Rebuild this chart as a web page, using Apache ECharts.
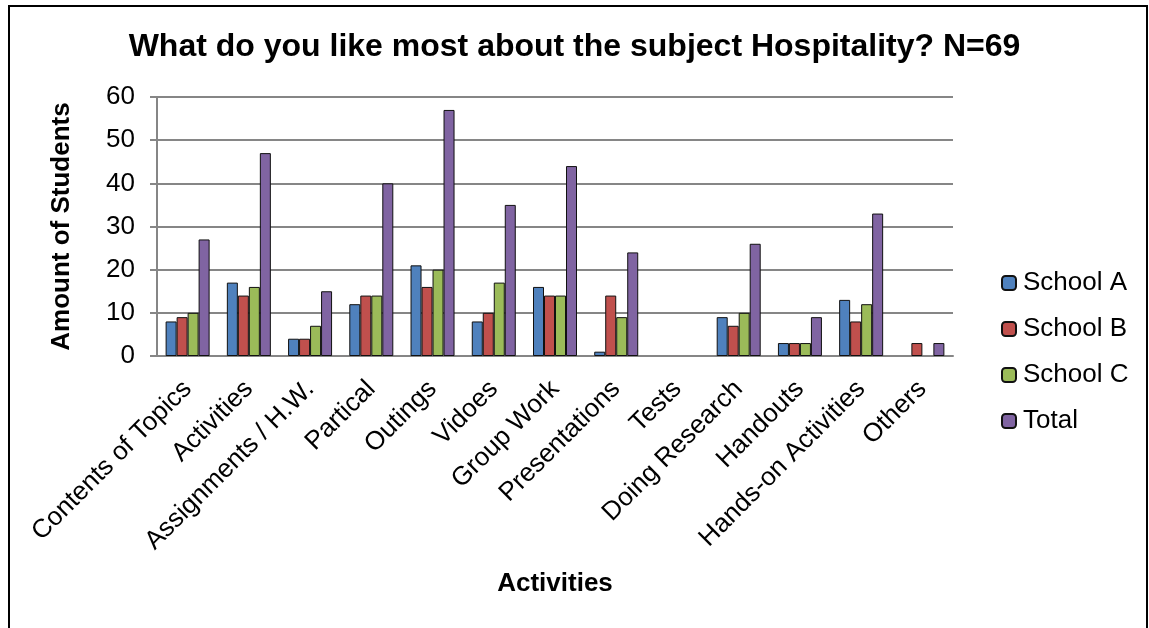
<!DOCTYPE html>
<html>
<head>
<meta charset="utf-8">
<script src="https://cdn.jsdelivr.net/npm/echarts@6/dist/echarts.min.js"></script>
<style>
  html, body { margin: 0; padding: 0; background: #ffffff; }
  #chart { width: 1149px; height: 628px; }
</style>
</head>
<body>
<div id="chart"></div>
<script>
// Survey answers per activity, by school
const categories = [
  'Contents of Topics', 'Activities', 'Assignments / H.W.', 'Partical', 'Outings',
  'Vidoes', 'Group Work', 'Presentations', 'Tests', 'Doing Research',
  'Handouts', 'Hands-on Activities', 'Others'
];
const schoolA = [8, 17, 4, 12, 21, 8, 16, 1, 0, 9, 3, 13, 0];
const schoolB = [9, 14, 4, 14, 16, 10, 14, 14, 0, 7, 3, 8, 3];
const schoolC = [10, 16, 7, 14, 20, 17, 14, 9, 0, 10, 3, 12, 0];
const total   = [27, 47, 15, 40, 57, 35, 44, 24, 0, 26, 9, 33, 3];

const seriesNames = ['School A', 'School B', 'School C', 'Total'];
const seriesColors = ['#4F81BD', '#C0504D', '#9BBB59', '#8064A2'];
const seriesData = [schoolA, schoolB, schoolC, total];

const chart = echarts.init(document.getElementById('chart'));

const font = 'Arial, "Liberation Sans", sans-serif';

chart.setOption({
  backgroundColor: '#ffffff',
  animation: false,
  textStyle: { fontFamily: font },
  title: {
    text: 'What do you like most about the subject Hospitality? N=69',
    left: 'center',
    top: 26,
    textStyle: { fontFamily: font, fontSize: 32, fontWeight: 'bold', color: '#000' }
  },
  legend: {
    orient: 'vertical',
    left: 996,
    top: 265,
    itemWidth: 14,
    itemHeight: 14,
    itemGap: 20,
    data: seriesNames,
    textStyle: { fontFamily: font, fontSize: 26, color: '#000', padding: [0, 0, 0, 2] }
  },
  grid: { left: 157, top: 97, width: 796, height: 259, containLabel: false },
  xAxis: {
    type: 'category',
    data: categories,
    name: 'Activities',
    nameLocation: 'middle',
    nameGap: 215,
    nameTextStyle: { fontFamily: font, fontSize: 26, fontWeight: 'bold', color: '#000' },
    axisLine: { lineStyle: { color: '#868686', width: 2 } },
    axisTick: { show: false },
    axisLabel: {
      rotate: 45,
      interval: 0,
      margin: 29,
      fontFamily: font,
      fontSize: 26,
      color: '#000'
    }
  },
  yAxis: {
    type: 'value',
    min: 0,
    max: 60,
    interval: 10,
    name: 'Amount of Students',
    nameLocation: 'middle',
    nameGap: 82,
    nameTextStyle: { fontFamily: font, fontSize: 26, fontWeight: 'bold', color: '#000' },
    axisLine: { show: true, lineStyle: { color: '#868686', width: 2 } },
    axisTick: { show: true, length: 7, lineStyle: { color: '#868686', width: 2 } },
    axisLabel: { fontFamily: font, fontSize: 26, color: '#000', margin: 22 },
    splitLine: { show: true, lineStyle: { color: '#868686', width: 2 } }
  },
  series: seriesNames.map((name, i) => ({
    name: name,
    type: 'bar',
    // zero counts leave an empty slot instead of a flat outlined bar
    data: seriesData[i].map(v => (v === 0 ? '-' : v)),
    barWidth: 11,
    barGap: '0%',
    itemStyle: { color: seriesColors[i], borderColor: '#111', borderWidth: 1 }
  })),
  graphic: [
    {
      type: 'polyline',
      shape: { points: [[9, 640], [9, 6], [1147, 6], [1147, 640]] },
      style: { stroke: '#000', lineWidth: 2, fill: null },
      silent: true
    }
  ]
});
</script>
</body>
</html>
